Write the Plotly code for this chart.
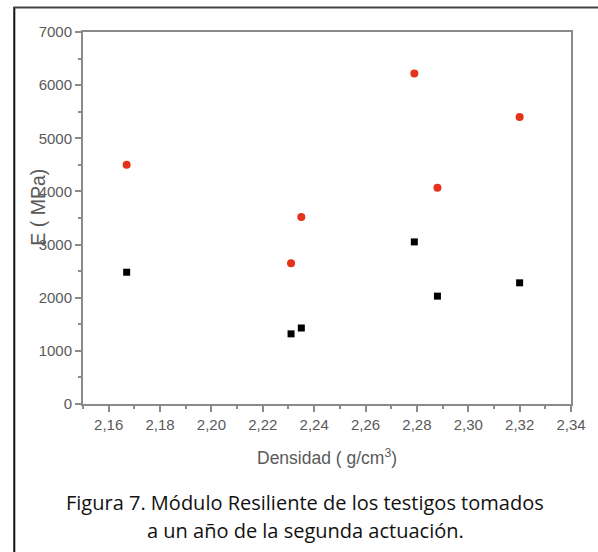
import plotly.graph_objects as go

# Data
densidad = [2.167, 2.231, 2.235, 2.279, 2.288, 2.320]
mr_red = [4500, 2650, 3520, 6220, 4070, 5400]
mr_black = [2480, 1320, 1430, 3050, 2030, 2280]

x_title = "Densidad ( g/cm<sup>3</sup>)"
y_title = "E ( MPa)"
caption = ["Figura 7. Módulo Resiliente de los testigos tomados",
           "a un año de la segunda actuación."]

W, H = 598, 552
L, R, T, B = 83, 25, 32, 148
pw, ph = W - L - R, H - T - B


def px(x):
    return (x - L) / pw


def py(y):
    return (H - B - y) / ph


fig = go.Figure()
fig.add_trace(go.Scatter(x=densidad, y=mr_red, mode="markers",
                         marker=dict(symbol="circle", size=8, color="#e4321b"),
                         showlegend=False))
fig.add_trace(go.Scatter(x=densidad, y=mr_black, mode="markers",
                         marker=dict(symbol="square", size=7, color="#000000"),
                         showlegend=False))

axis_common = dict(showgrid=False, zeroline=False, showline=True, mirror=True,
                   linecolor="#8a8a8a", linewidth=2, ticks="outside",
                   tickcolor="#8a8a8a", tickwidth=1.5,
                   tickfont=dict(family="Liberation Sans", size=15, color="#5a5a5a"))

fig.update_layout(
    width=W, height=H,
    margin=dict(l=L, r=R, t=T, b=B),
    paper_bgcolor="white", plot_bgcolor="white",
    separators=",.",
    xaxis=dict(range=[2.15, 2.34], tick0=2.16, dtick=0.02, tickformat=".2f",
               ticklen=6,
               minor=dict(dtick=0.01, tick0=2.15, ticks="outside", ticklen=3,
                          tickcolor="#8a8a8a", tickwidth=1.5),
               **axis_common),
    yaxis=dict(range=[0, 7000], tick0=0, dtick=1000, ticklen=6,
               minor=dict(dtick=500, ticks="outside", ticklen=3,
                          tickcolor="#8a8a8a", tickwidth=1.5),
               **axis_common),
)

annos = [
    dict(text=x_title, x=px(327.5), y=py(457), font=dict(family="Liberation Sans", size=17.5, color="#5a5a5a")),
    dict(text=y_title, x=px(37), y=py(207.5), textangle=-90,
         font=dict(family="Liberation Sans", size=19.5, color="#5a5a5a")),
    dict(text=caption[0], x=px(306), y=py(502), font=dict(family="Open Sans", size=20, color="#111111")),
    dict(text=caption[1], x=px(306), y=py(530), font=dict(family="Open Sans", size=20, color="#111111")),
]
for a in annos:
    fig.add_annotation(xref="paper", yref="paper", showarrow=False,
                       xanchor="center", yanchor="middle", **a)

# outer frame: only left and top edges are visible in the reference
fig.add_shape(type="line", xref="paper", yref="paper",
              x0=px(14), x1=px(14), y0=py(7), y1=py(560),
              line=dict(color="#111111", width=2), layer="below")
fig.add_shape(type="line", xref="paper", yref="paper",
              x0=px(13), x1=px(610), y0=py(7.5), y1=py(7.5),
              line=dict(color="#444444", width=2), layer="below")

fig.write_html("out.html", config={"displayModeBar": False},
               post_script="document.body.style.margin='0';document.body.style.overflow='hidden';")
